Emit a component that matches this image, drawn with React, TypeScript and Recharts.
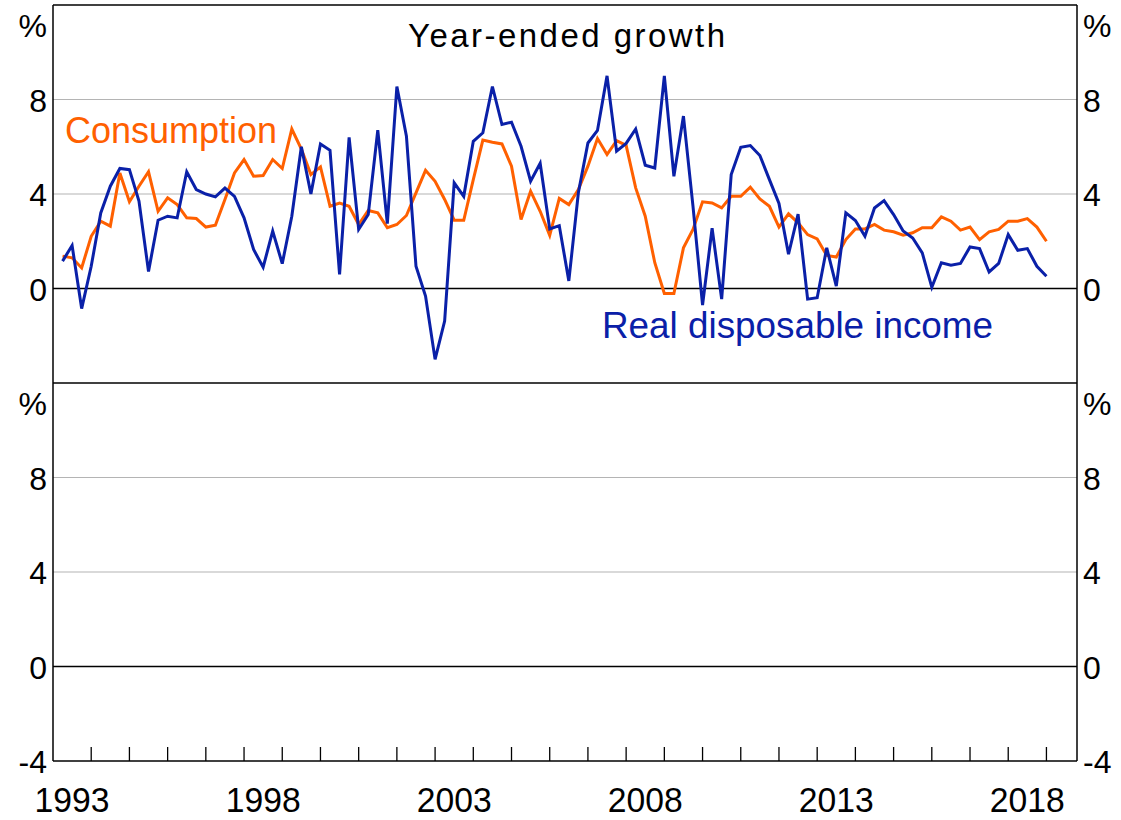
import React from 'react';
import { ComposedChart, Line, XAxis, YAxis, ReferenceLine } from 'recharts';

const years = [1993, 1994, 1995, 1996, 1997, 1998, 1999, 2000, 2001, 2002, 2003, 2004, 2005, 2006, 2007, 2008, 2009, 2010, 2011, 2012, 2013, 2014, 2015, 2016, 2017, 2018];
const quarterNums = [1, 2, 3, 4];

const consumption = [
  1.37, 1.3, 0.87, 2.21, 2.85, 2.64, 4.89, 3.67, 4.33, 4.94, 3.27, 3.84, 3.55, 2.99, 2.96, 2.6,
  2.68, 3.77, 4.89, 5.46, 4.75, 4.78, 5.46, 5.08, 6.75, 5.9, 4.82, 5.15, 3.48, 3.62, 3.48, 2.71,
  3.3, 3.2, 2.57, 2.71, 3.09, 4.05, 5.0, 4.54, 3.77, 2.89, 2.89, 4.61, 6.28, 6.19, 6.12, 5.18,
  2.92, 4.12, 3.27, 2.25, 3.81, 3.55, 4.19, 5.18, 6.35, 5.67, 6.26, 6.06, 4.26, 3.06, 1.09, -0.21,
  -0.21, 1.72, 2.5, 3.67, 3.62, 3.41, 3.9, 3.9, 4.29, 3.79, 3.48, 2.6, 3.16, 2.78, 2.28, 2.1,
  1.4, 1.33, 2.07, 2.52, 2.52, 2.71, 2.47, 2.4, 2.26, 2.36, 2.57, 2.57, 3.03, 2.85, 2.47, 2.6,
  2.07, 2.4, 2.5, 2.85, 2.85, 2.96, 2.6, 2.0,
];

const income = [
  1.16, 1.82, -0.85, 0.94, 3.2, 4.33, 5.08, 5.03, 3.7, 0.72, 2.89, 3.06, 2.99, 4.94, 4.19, 4.0,
  3.88, 4.25, 3.9, 2.99, 1.65, 0.9, 2.43, 1.05, 3.06, 6.0, 4.0, 6.12, 5.85, 0.6, 6.4, 2.5,
  3.13, 6.7, 2.75, 8.55, 6.45, 0.94, -0.32, -3.0, -1.38, 4.47, 3.9, 6.23, 6.59, 8.55, 6.94, 7.04,
  6.02, 4.54, 5.3, 2.52, 2.66, 0.32, 4.05, 6.16, 6.69, 9.0, 5.81, 6.14, 6.75, 5.22, 5.1, 9.0,
  4.75, 7.3, 3.48, -0.7, 2.55, -0.45, 4.82, 5.98, 6.05, 5.63, 4.61, 3.6, 1.45, 3.15, -0.45, -0.39,
  1.72, 0.1, 3.2, 2.88, 2.21, 3.41, 3.72, 3.13, 2.43, 2.14, 1.51, 0.05, 1.09, 0.99, 1.06, 1.76,
  1.69, 0.7, 1.06, 2.28, 1.62, 1.69, 0.94, 0.52,
];

const yTicks = [12, 8, 4, 0, -4, -8, -12, -16, -20];
const yTickLabels = ['%', '8', '4', '0', '%', '8', '4', '0', '-4'];
const yearBoundaryTicks = [1994, 1995, 1996, 1997, 1998, 1999, 2000, 2001, 2002, 2003, 2004, 2005, 2006, 2007, 2008, 2009, 2010, 2011, 2012, 2013, 2014, 2015, 2016, 2017, 2018, 2019];
const yearLabelTicks = [1993.5, 1998.5, 2003.5, 2008.5, 2013.5, 2018.5];
const yearLabels = ['1993', '1998', '2003', '2008', '2013', '2018'];
const xDomain = [1993, 2019.8];
const allXTicks = [...yearLabelTicks, ...yearBoundaryTicks].sort((a, b) => a - b);

const data = years.flatMap((yr, yi) =>
  quarterNums.map((q, qi) => {
    const i = yi * 4 + qi;
    return { t: yr + q / 4, consumption: consumption[i], income: income[i] };
  })
);

const ORANGE = '#ff6000';
const BLUE = '#0a20a8';
const GRID = '#b4b4b4';
const FONT = '"Liberation Sans", Arial, sans-serif';

const labelFor = (v: number) => {
  const idx = yTicks.indexOf(v);
  return idx >= 0 ? yTickLabels[idx] : String(v);
};

const LeftTick = (props: any) => {
  const { x, y, payload } = props;
  const lab = labelFor(payload.value);
  const dy = lab === '%' ? 32 : 12;
  return (
    <text x={x} y={y + dy} textAnchor="end" fontSize={32} fontFamily={FONT} fill="#000">
      {lab}
    </text>
  );
};

const RightTick = (props: any) => {
  const { x, y, payload } = props;
  const lab = labelFor(payload.value);
  const dy = lab === '%' ? 32 : 12;
  return (
    <text x={x} y={y + dy} textAnchor="start" fontSize={32} fontFamily={FONT} fill="#000">
      {lab}
    </text>
  );
};

const XTick = (props: any) => {
  const { x, y, payload } = props;
  const v = payload.value;
  const idx = yearLabelTicks.indexOf(v);
  if (idx >= 0) {
    return (
      <text
        x={x}
        y={y + 51}
        textAnchor="middle"
        fontSize={35}
        fontFamily={FONT}
        fill="#000"
        textLength={75}
        lengthAdjust="spacingAndGlyphs"
      >
        {yearLabels[idx]}
      </text>
    );
  }
  return <line x1={x} x2={x} y1={y} y2={y - 14} stroke="#000" strokeWidth={1.3} />;
};

export default function App() {
  return (
    <div style={{ position: 'absolute', left: 0, top: 0, width: 1121, height: 820, background: '#fff' }}>
      <ComposedChart
        width={1121}
        height={820}
        data={data}
        margin={{ top: 5, right: 0, bottom: 0, left: 0 }}
      >
        <XAxis
          xAxisId="t"
          dataKey="t"
          type="number"
          domain={xDomain}
          allowDataOverflow
          ticks={allXTicks}
          interval={0}
          height={59}
          tickSize={0}
          tickMargin={0}
          tickLine={false}
          axisLine={{ stroke: '#000', strokeWidth: 1.5 }}
          tick={<XTick />}
        />
        <YAxis
          yAxisId="left"
          domain={[-20, 12]}
          allowDataOverflow
          ticks={yTicks}
          interval={0}
          width={53}
          tickSize={0}
          tickMargin={6}
          tickLine={false}
          axisLine={{ stroke: '#000', strokeWidth: 1.5 }}
          tick={<LeftTick />}
        />
        <YAxis
          yAxisId="right"
          orientation="right"
          domain={[-20, 12]}
          allowDataOverflow
          ticks={yTicks}
          interval={0}
          width={44}
          tickSize={0}
          tickMargin={6}
          tickLine={false}
          axisLine={{ stroke: '#000', strokeWidth: 1.5 }}
          tick={<RightTick />}
        />
        {[8, 4, -8, -12].map((v) => (
          <ReferenceLine key={'g' + v} xAxisId="t" yAxisId="left" y={v} stroke={GRID} strokeWidth={1.2} />
        ))}
        {[12, 0, -4, -16].map((v) => (
          <ReferenceLine key={'b' + v} xAxisId="t" yAxisId="left" y={v} stroke="#000" strokeWidth={1.5} />
        ))}
        <Line
          xAxisId="t"
          yAxisId="left"
          dataKey="consumption"
          stroke={ORANGE}
          strokeWidth={3}
          dot={false}
          activeDot={false}
          isAnimationActive={false}
          type="linear"
        />
        <Line
          xAxisId="t"
          yAxisId="left"
          dataKey="income"
          stroke={BLUE}
          strokeWidth={3}
          dot={false}
          activeDot={false}
          isAnimationActive={false}
          type="linear"
        />
      </ComposedChart>
      <svg
        width={1121}
        height={820}
        style={{ position: 'absolute', left: 0, top: 0, pointerEvents: 'none' }}
      >
        <text x={566.5} y={47} textAnchor="middle" fontSize={33} fontFamily={FONT} fill="#000" textLength={317} lengthAdjust="spacing">
          Year-ended growth
        </text>
        <text x={65} y={143} fontSize={36} fontFamily={FONT} fill={ORANGE} textLength={212} lengthAdjust="spacingAndGlyphs">
          Consumption
        </text>
        <text x={602} y={338} fontSize={36} fontFamily={FONT} fill={BLUE} textLength={391} lengthAdjust="spacingAndGlyphs">
          Real disposable income
        </text>
      </svg>
    </div>
  );
}
